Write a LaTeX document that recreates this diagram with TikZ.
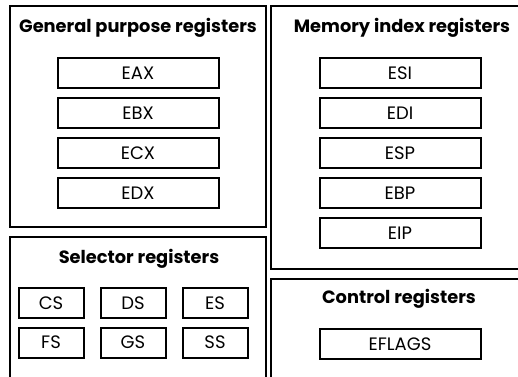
\documentclass[tikz,border=0pt]{standalone}
\usepackage{fontspec}
\setmainfont{Poppins}
\usetikzlibrary{positioning}

\begin{document}
\begin{tikzpicture}[x=1pt, y=-1pt,
  node distance=8pt and 15pt,
  panel/.style={draw=black, line width=2pt},
  title/.style={anchor=base, font=\fontsize{17.8}{18}\selectfont\bfseries},
  reg/.style={rectangle, draw=black, line width=2pt, inner sep=0pt,
              minimum width=161pt, minimum height=30pt,
              text height=12.6pt, text depth=0pt,
              font=\fontsize{18}{18}\selectfont},
  sreg/.style={reg, minimum width=65pt}
]
\useasboundingbox (0,0) rectangle (518,376);
\clip (0,0) rectangle (518,376);

% the four panels
\draw[panel] (10,6)   rectangle (266,227);
\draw[panel] (271,6)  rectangle (530,269);
\draw[panel] (10,237) rectangle (266,390);
\draw[panel] (271,279) rectangle (530,390);

\node[title] (gptitle)   at (138,32)  {General purpose registers};
\node[title] (memtitle)  at (402,32)  {Memory index registers};
\node[title] (seltitle)  at (139,263) {Selector registers};
\node[title] (ctrltitle) at (399,303) {Control registers};

% general purpose
\node[reg] (eax) at (138,73) {EAX};
\node[reg, below=of eax] (ebx) {EBX};
\node[reg, below=of ebx] (ecx) {ECX};
\node[reg, below=of ecx] (edx) {EDX};

% memory index
\node[reg] (esi) at (400,73) {ESI};
\node[reg, below=of esi] (edi) {EDI};
\node[reg, below=of edi] (esp) {ESP};
\node[reg, below=of esp] (ebp) {EBP};
\node[reg, below=of ebp] (eip) {EIP};

% selector
\node[sreg] (cs) at (51,303) {CS};
\node[sreg, right=of cs] (ds) {DS};
\node[sreg, right=of ds] (es) {ES};
\node[sreg, below=7.5pt of cs] (fs) {FS};
\node[sreg, below=7.5pt of ds] (gs) {GS};
\node[sreg, below=7.5pt of es] (ss) {SS};

% control
\node[reg] (eflags) at (400,344) {EFLAGS};
\end{tikzpicture}
\end{document}
